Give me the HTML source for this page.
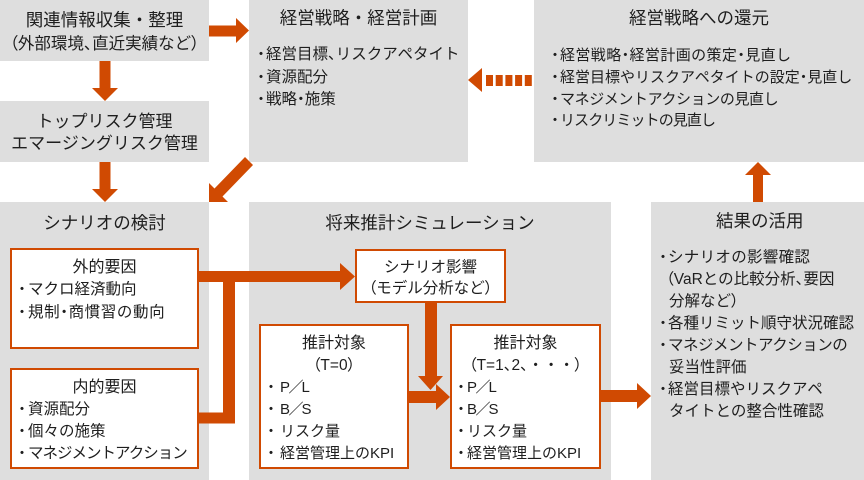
<!DOCTYPE html>
<html><head><meta charset="utf-8">
<style>
*{margin:0;padding:0;box-sizing:border-box;}
html,body{width:864px;height:480px;background:#fff;overflow:hidden;}
#c{position:relative;width:864px;height:480px;font-family:"Liberation Sans","Noto Sans CJK JP",sans-serif;color:#1e1e1e;}
.g{position:absolute;background:#dedede;}
.w{position:absolute;background:#fff;border:2px solid #d04a02;}
.t{position:absolute;white-space:nowrap;line-height:22px;height:22px;margin-top:1px;}
.c{text-align:center;}
.p{font-feature-settings:"palt";}
.d{position:absolute;width:16px;text-align:center;line-height:22px;height:22px;font-size:15px;margin-top:1px;}
.sl{letter-spacing:-2px;margin-left:-1.5px;}
svg{position:absolute;left:0;top:0;}
</style></head><body><div id="c">
<!-- gray boxes -->
<div class="g" style="left:0;top:0;width:209px;height:61px"></div>
<div class="g" style="left:0;top:101px;width:209px;height:61px"></div>
<div class="g" style="left:249px;top:0;width:219px;height:162px"></div>
<div class="g" style="left:534px;top:0;width:330px;height:162px"></div>
<div class="g" style="left:0;top:202px;width:209px;height:278px"></div>
<div class="g" style="left:249px;top:202px;width:362px;height:278px"></div>
<div class="g" style="left:651px;top:202px;width:213px;height:278px"></div>
<!-- white boxes -->
<div class="w" style="left:10px;top:248px;width:189px;height:101px"></div>
<div class="w" style="left:10px;top:368px;width:189px;height:101px"></div>
<div class="w" style="left:355px;top:249px;width:151px;height:54px"></div>
<div class="w" style="left:259px;top:324px;width:150px;height:145px"></div>
<div class="w" style="left:450px;top:324px;width:151px;height:145px"></div>

<svg width="864" height="480" viewBox="0 0 864 480">
<g fill="#d04a02">
<rect x="209" y="25.5" width="28" height="11"/>
<polygon points="236,18 249,30.5 236,43"/>
<rect x="99.5" y="61" width="11" height="28"/>
<polygon points="92,88 118,88 105,101"/>
<rect x="99.5" y="162" width="11" height="28"/>
<polygon points="92,189 118,189 105,202"/>
<polygon points="245,157 253,165 222.5,196.5 228,202 209,202 209,183 214.5,188.5"/>
<polygon points="482,68 468,80 482,92"/>
<rect x="486" y="75" width="7" height="11"/>
<rect x="495.7" y="75" width="7" height="11"/>
<rect x="505.4" y="75" width="7" height="11"/>
<rect x="515.1" y="75" width="7" height="11"/>
<rect x="524.8" y="75" width="7" height="11"/>
<rect x="199" y="271" width="142" height="11"/>
<rect x="223" y="271" width="12" height="152"/>
<rect x="199" y="412.5" width="36" height="11"/>
<polygon points="340,263 355,276.5 340,290"/>
<rect x="425" y="303" width="12" height="74"/>
<polygon points="418,376 443,376 430.5,390"/>
<rect x="409" y="391" width="28" height="12"/>
<polygon points="436,384 450,397 436,410"/>
<rect x="601" y="390" width="37" height="12"/>
<polygon points="637,383 651,396 637,409"/>
<rect x="753" y="174" width="10" height="28"/>
<polygon points="745,175 771,175 758,162"/>
</g>
</svg>

<!-- Box1 -->
<div class="t c" style="left:0;top:8px;width:209px;font-size:17.5px">関連情報収集・整理</div>
<div class="t c" style="left:0;top:32px;width:209px;font-size:16.5px"><span class="p">（</span>外部環境<span class="p">、</span>直近実績など<span class="p">）</span></div>
<!-- Box2 -->
<div class="t c" style="left:0;top:110px;width:209px;font-size:17px">トップリスク管理</div>
<div class="t c" style="left:0;top:132px;width:209px;font-size:17px">エマージングリスク管理</div>
<!-- Box3 -->
<div class="t c" style="left:249px;top:6px;width:219px;font-size:17.5px">経営戦略・経営計画</div>
<div class="d" style="left:253px;top:43px">・</div>
<div class="t" style="left:266px;top:43px;font-size:15.5px">経営目標<span class="p">、</span>リスクアペタイト</div>
<div class="d" style="left:253px;top:65.5px">・</div>
<div class="t" style="left:266px;top:65.5px;font-size:15.5px">資源配分</div>
<div class="d" style="left:253px;top:87.5px">・</div>
<div class="t" style="left:266px;top:87.5px;font-size:15.5px">戦略<span class="p">・</span>施策</div>
<!-- Box4 -->
<div class="t c" style="left:534px;top:6px;width:330px;font-size:17.5px">経営戦略への還元</div>
<div class="d" style="left:547px;top:43.5px">・</div>
<div class="t" style="left:560px;top:43.5px;font-size:15px;letter-spacing:0.4px">経営戦略<span class="p">・</span>経営計画の策定<span class="p">・</span>見直し</div>
<div class="d" style="left:547px;top:65.5px">・</div>
<div class="t" style="left:560px;top:65.5px;font-size:15px">経営目標やリスクアペタイトの設定<span class="p">・</span>見直し</div>
<div class="d" style="left:547px;top:87.5px">・</div>
<div class="t" style="left:560px;top:87.5px;font-size:15px;letter-spacing:-0.4px">マネジメントアクションの見直し</div>
<div class="d" style="left:547px;top:109px">・</div>
<div class="t" style="left:560px;top:109px;font-size:15px;letter-spacing:-0.9px">リスクリミットの見直し</div>
<!-- Box5 -->
<div class="t c" style="left:0;top:211px;width:209px;font-size:17.5px">シナリオの検討</div>
<div class="t c" style="left:10px;top:256px;width:189px;font-size:16px">外的要因</div>
<div class="d" style="left:14px;top:278px">・</div>
<div class="t" style="left:28px;top:278px;font-size:15.5px">マクロ経済動向</div>
<div class="d" style="left:14px;top:300.5px">・</div>
<div class="t" style="left:28px;top:300.5px;font-size:15.5px;letter-spacing:0.6px">規制<span class="p">・</span>商慣習の動向</div>
<div class="t c" style="left:10px;top:376px;width:189px;font-size:16px">内的要因</div>
<div class="d" style="left:14px;top:398px">・</div>
<div class="t" style="left:28px;top:398px;font-size:15.5px">資源配分</div>
<div class="d" style="left:14px;top:420px">・</div>
<div class="t" style="left:28px;top:420px;font-size:15.5px">個々の施策</div>
<div class="d" style="left:14px;top:442px">・</div>
<div class="t" style="left:28px;top:442px;font-size:15.5px;letter-spacing:-1px">マネジメントアクション</div>
<!-- Box6 -->
<div class="t c" style="left:249px;top:211px;width:362px;font-size:17.5px">将来推計シミュレーション</div>
<div class="t c" style="left:355px;top:256px;width:151px;font-size:15.5px">シナリオ影響</div>
<div class="t c" style="left:355px;top:277px;width:151px;font-size:15.5px"><span class="p">（</span>モデル分析など<span class="p">）</span></div>
<div class="t c" style="left:259px;top:332px;width:150px;font-size:16px">推計対象</div>
<div class="t c" style="left:259px;top:354px;width:150px;font-size:15.5px"><span class="p">（</span>T=0<span class="p">）</span></div>
<div class="d" style="left:263px;top:376px">・</div>
<div class="t" style="left:280px;top:376px;font-size:15px">P<span class="sl">／</span>L</div>
<div class="d" style="left:263px;top:398px">・</div>
<div class="t" style="left:280px;top:398px;font-size:15px">B<span class="sl">／</span>S</div>
<div class="d" style="left:263px;top:420px">・</div>
<div class="t" style="left:280px;top:420px;font-size:15px">リスク量</div>
<div class="d" style="left:263px;top:442px">・</div>
<div class="t" style="left:280px;top:442px;font-size:15px">経営管理上のKPI</div>
<div class="t c" style="left:450px;top:332px;width:151px;font-size:16px">推計対象</div>
<div class="t c" style="left:450px;top:354px;width:151px;font-size:15.5px"><span class="p">（</span>T=1<span class="p">、</span>2<span class="p">、</span>・・・<span class="p">）</span></div>
<div class="d" style="left:453px;top:376px">・</div>
<div class="t" style="left:467px;top:376px;font-size:15px">P<span class="sl">／</span>L</div>
<div class="d" style="left:453px;top:398px">・</div>
<div class="t" style="left:467px;top:398px;font-size:15px">B<span class="sl">／</span>S</div>
<div class="d" style="left:453px;top:420px">・</div>
<div class="t" style="left:467px;top:420px;font-size:15px">リスク量</div>
<div class="d" style="left:453px;top:442px">・</div>
<div class="t" style="left:467px;top:442px;font-size:15px">経営管理上のKPI</div>
<!-- Box7 -->
<div class="t" style="left:716px;top:209px;font-size:17.5px">結果の活用</div>
<div class="d" style="left:655px;top:246px">・</div>
<div class="t" style="left:668px;top:246px;font-size:15.5px;letter-spacing:0.3px">シナリオの影響確認</div>
<div class="t" style="left:666px;top:268px;font-size:15.5px"><span class="p">（</span>VaRとの比較分析<span class="p">、</span>要因</div>
<div class="t" style="left:669px;top:290px;font-size:15.5px">分解など<span class="p">）</span></div>
<div class="d" style="left:655px;top:312px">・</div>
<div class="t" style="left:668px;top:312px;font-size:15.5px">各種リミット順守状況確認</div>
<div class="d" style="left:655px;top:334px">・</div>
<div class="t" style="left:668px;top:334px;font-size:15.5px;letter-spacing:-0.5px">マネジメントアクションの</div>
<div class="t" style="left:669px;top:356px;font-size:15.5px">妥当性評価</div>
<div class="d" style="left:655px;top:378px">・</div>
<div class="t" style="left:668px;top:378px;font-size:15.5px">経営目標やリスクアペ</div>
<div class="t" style="left:669px;top:400px;font-size:15.5px">タイトとの整合性確認</div>
</div></body></html>
